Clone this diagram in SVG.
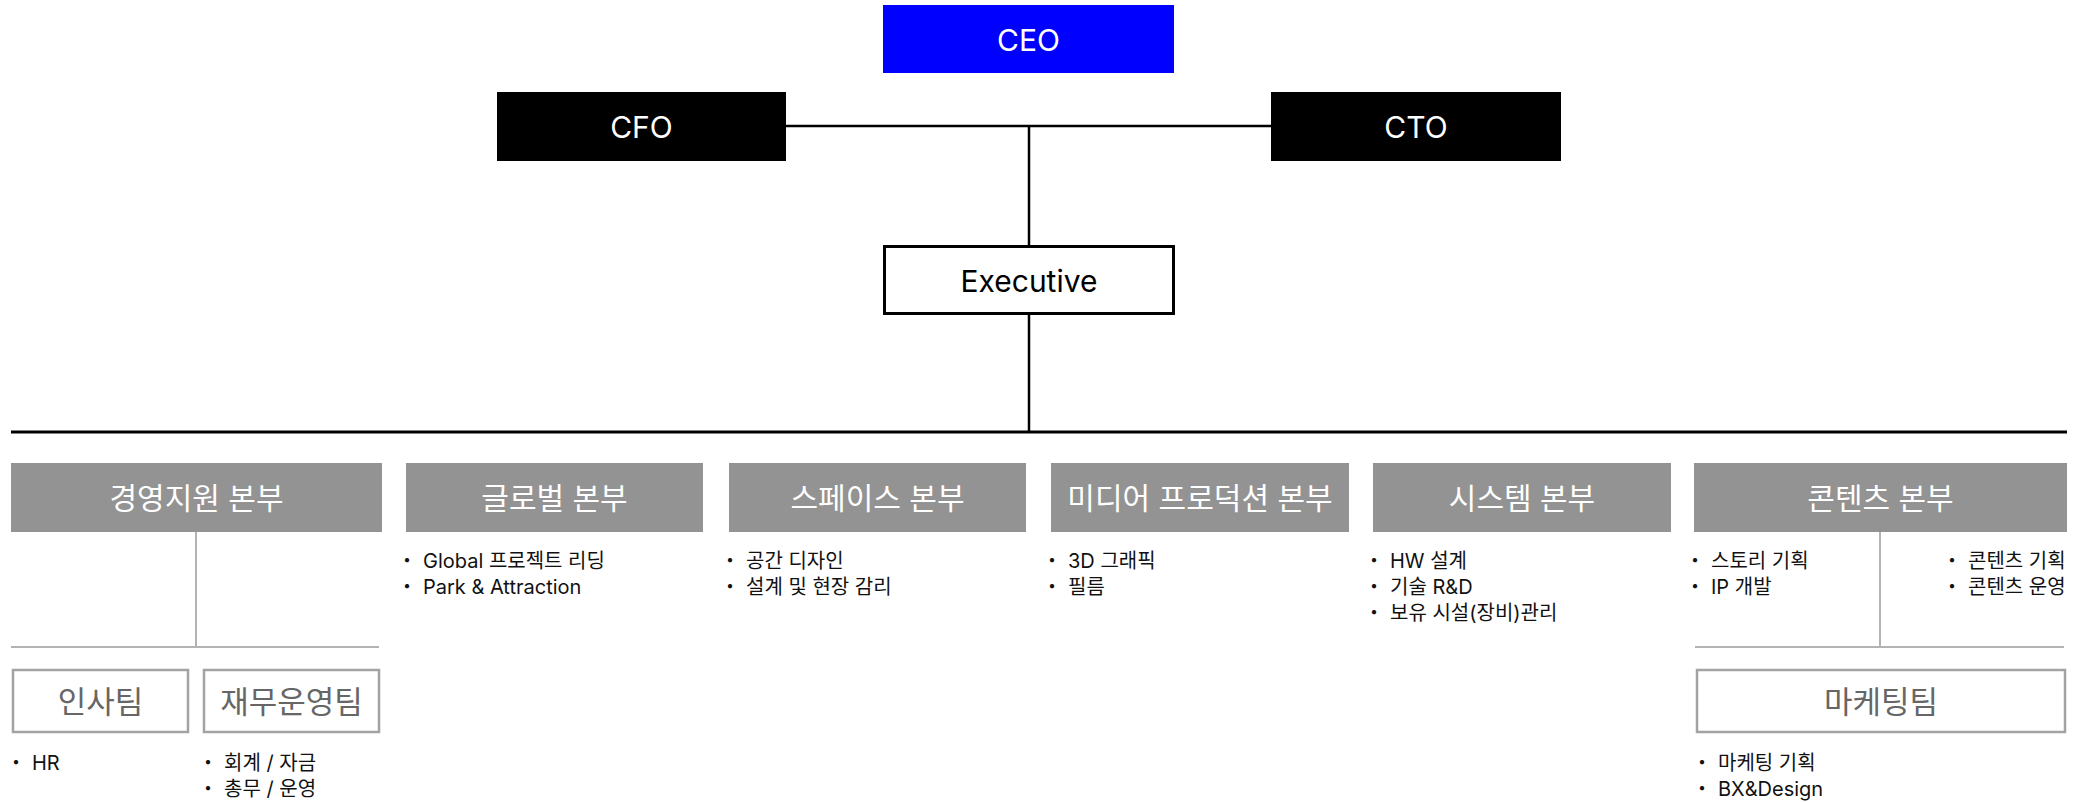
<svg xmlns="http://www.w3.org/2000/svg" width="2082" height="802" viewBox="0 0 2082 802">
<style>
.top{font-family:Inter,"Noto Sans CJK KR",sans-serif;font-size:30px;text-anchor:middle;dominant-baseline:central}
.div rect{fill:#939393}
.div text.t{font-family:Inter,"Noto Sans CJK KR",sans-serif;font-size:30px;fill:#ffffff;text-anchor:middle;dominant-baseline:central}
.team rect{fill:#ffffff;stroke:#a3a3a3;stroke-width:2.5}
.team text.t{font-family:Inter,"Noto Sans CJK KR",sans-serif;font-size:31px;fill:#666666;text-anchor:middle;dominant-baseline:central}
text.b{font-family:Inter,"Noto Sans CJK KR",sans-serif;font-size:20px;fill:#111111}
.k{stroke:#000;fill:none}
.g{stroke:#b3b3b3;stroke-width:2;fill:none}
</style>
<g id="connectors">
<line class="k" x1="786" y1="126" x2="1271" y2="126" stroke-width="2.5"/>
<line class="k" x1="1029" y1="126" x2="1029" y2="246" stroke-width="2.5"/>
<line class="k" x1="1029" y1="314" x2="1029" y2="432" stroke-width="2.5"/>
<line class="k" x1="11" y1="432" x2="2067" y2="432" stroke-width="3"/>
<line class="g" x1="196" y1="531" x2="196" y2="647"/>
<line class="g" x1="11" y1="647" x2="379" y2="647"/>
<line class="g" x1="1880" y1="531" x2="1880" y2="647"/>
<line class="g" x1="1695" y1="647" x2="2064" y2="647"/>
</g>
<g id="ceo"><rect x="883" y="5" width="291" height="68" fill="#0000ff"/><text class="top" x="1028.5" y="40" fill="#ffffff">CEO</text></g>
<g id="cfo"><rect x="497" y="92" width="289" height="69" fill="#000000"/><text class="top" x="641.5" y="127" fill="#ffffff">CFO</text></g>
<g id="cto"><rect x="1271" y="92" width="290" height="69" fill="#000000"/><text class="top" x="1416" y="127" fill="#ffffff">CTO</text></g>
<g id="executive"><rect x="884.5" y="246.5" width="289" height="67" fill="#ffffff" stroke="#000" stroke-width="3"/><text class="top" x="1029" y="281" fill="#000000">Executive</text></g>

<g id="div-management" class="div"><rect x="11" y="463" width="371" height="69"/><text class="t" x="196.5" y="497.5">경영지원 본부</text></g>
<g id="div-global" class="div"><rect x="406" y="463" width="297" height="69"/><text class="t" x="554.5" y="497.5">글로벌 본부</text>
<text class="b" y="568"><tspan x="397">・</tspan><tspan x="423">Global 프로젝트 리딩</tspan></text>
<text class="b" y="594"><tspan x="397">・</tspan><tspan x="423">Park &amp; Attraction</tspan></text></g>
<g id="div-space" class="div"><rect x="729" y="463" width="297" height="69"/><text class="t" x="877.5" y="497.5">스페이스 본부</text>
<text class="b" y="568"><tspan x="720">・</tspan><tspan x="746">공간 디자인</tspan></text>
<text class="b" y="594"><tspan x="720">・</tspan><tspan x="746">설계 및 현장 감리</tspan></text></g>
<g id="div-media" class="div"><rect x="1051" y="463" width="298" height="69"/><text class="t" x="1200" y="497.5">미디어 프로덕션 본부</text>
<text class="b" y="568"><tspan x="1042">・</tspan><tspan x="1068">3D 그래픽</tspan></text>
<text class="b" y="594"><tspan x="1042">・</tspan><tspan x="1068">필름</tspan></text></g>
<g id="div-system" class="div"><rect x="1373" y="463" width="298" height="69"/><text class="t" x="1522" y="497.5">시스템 본부</text>
<text class="b" y="568"><tspan x="1364">・</tspan><tspan x="1390">HW 설계</tspan></text>
<text class="b" y="594"><tspan x="1364">・</tspan><tspan x="1390">기술 R&amp;D</tspan></text>
<text class="b" y="620"><tspan x="1364">・</tspan><tspan x="1390">보유 시설(장비)관리</tspan></text></g>
<g id="div-contents" class="div"><rect x="1694" y="463" width="373" height="69"/><text class="t" x="1880.5" y="497.5">콘텐츠 본부</text>
<text class="b" y="568"><tspan x="1685">・</tspan><tspan x="1711">스토리 기획</tspan></text>
<text class="b" y="594"><tspan x="1685">・</tspan><tspan x="1711">IP 개발</tspan></text>
<text class="b" y="568"><tspan x="1942">・</tspan><tspan x="1968">콘텐츠 기획</tspan></text>
<text class="b" y="594"><tspan x="1942">・</tspan><tspan x="1968">콘텐츠 운영</tspan></text></g>

<g id="team-hr" class="team"><rect x="13" y="670" width="175" height="62"/><text class="t" x="100.5" y="701">인사팀</text>
<text class="b" y="770"><tspan x="6">・</tspan><tspan x="32">HR</tspan></text></g>
<g id="team-finance" class="team"><rect x="204" y="670" width="175" height="62"/><text class="t" x="291.5" y="701">재무운영팀</text>
<text class="b" y="770"><tspan x="198">・</tspan><tspan x="224">회계 / 자금</tspan></text>
<text class="b" y="796"><tspan x="198">・</tspan><tspan x="224">총무 / 운영</tspan></text></g>
<g id="team-marketing" class="team"><rect x="1697" y="670" width="368" height="62"/><text class="t" x="1881" y="701">마케팅팀</text>
<text class="b" y="770"><tspan x="1692">・</tspan><tspan x="1718">마케팅 기획</tspan></text>
<text class="b" y="796"><tspan x="1692">・</tspan><tspan x="1718">BX&amp;Design</tspan></text></g>
</svg>
